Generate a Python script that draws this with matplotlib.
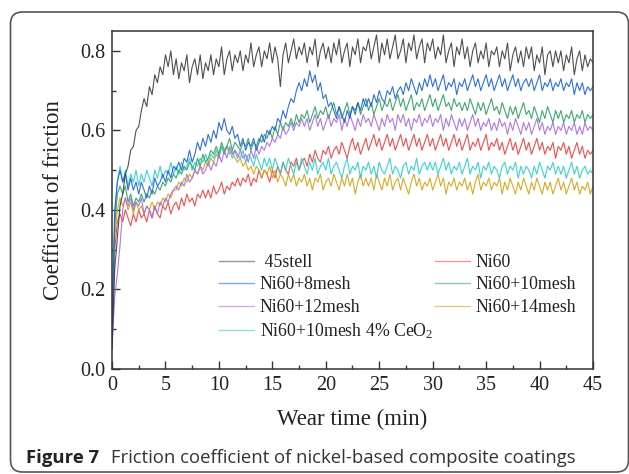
import numpy as np
import matplotlib
matplotlib.use("Agg")
import matplotlib.pyplot as plt
from matplotlib.patches import FancyBboxPatch
from matplotlib.transforms import IdentityTransform

time_min = np.arange(0, 45.001, 0.25)

steel_45 = [
    0.05, 0.25, 0.33, 0.41, 0.44, 0.49, 0.51, 0.55, 0.56, 0.60, 0.61, 0.65,
    0.68, 0.66, 0.71, 0.69, 0.74, 0.72, 0.76, 0.74, 0.79, 0.76, 0.80, 0.74,
    0.78, 0.73, 0.77, 0.75, 0.79, 0.72, 0.76, 0.78, 0.74, 0.79, 0.73, 0.77,
    0.75, 0.79, 0.74, 0.78, 0.76, 0.81, 0.74, 0.78, 0.80, 0.75, 0.79, 0.77,
    0.80, 0.75, 0.79, 0.77, 0.82, 0.76, 0.79, 0.81, 0.76, 0.80, 0.78, 0.82,
    0.77, 0.81, 0.78, 0.71, 0.79, 0.82, 0.77, 0.80, 0.83, 0.78, 0.81, 0.79,
    0.82, 0.77, 0.81, 0.79, 0.83, 0.76, 0.80, 0.82, 0.78, 0.81, 0.77, 0.82,
    0.79, 0.83, 0.77, 0.80, 0.82, 0.76, 0.81, 0.79, 0.83, 0.77, 0.81, 0.80,
    0.83, 0.78, 0.81, 0.84, 0.77, 0.82, 0.79, 0.83, 0.78, 0.81, 0.84, 0.78,
    0.80, 0.83, 0.77, 0.82, 0.80, 0.84, 0.78, 0.81, 0.83, 0.77, 0.82, 0.80,
    0.83, 0.78, 0.81, 0.79, 0.84, 0.77, 0.80, 0.82, 0.76, 0.81, 0.79, 0.83,
    0.78, 0.81, 0.76, 0.80, 0.82, 0.77, 0.80, 0.78, 0.82, 0.76, 0.80, 0.79,
    0.81, 0.76, 0.80, 0.78, 0.82, 0.75, 0.79, 0.81, 0.77, 0.80, 0.76, 0.81,
    0.78, 0.81, 0.75, 0.79, 0.77, 0.81, 0.74, 0.79, 0.80, 0.76, 0.80, 0.77,
    0.80, 0.75, 0.79, 0.77, 0.81, 0.74, 0.78, 0.80, 0.75, 0.79, 0.76, 0.78,
    0.77]

ni60 = [
    0.06, 0.30, 0.37, 0.39, 0.37, 0.40, 0.38, 0.36, 0.39, 0.37, 0.40, 0.38,
    0.39, 0.37, 0.40, 0.38, 0.41, 0.39, 0.38, 0.41, 0.40, 0.42, 0.39, 0.41,
    0.42, 0.40, 0.43, 0.41, 0.44, 0.42, 0.43, 0.41, 0.44, 0.43, 0.45, 0.43,
    0.45, 0.43, 0.46, 0.44, 0.45, 0.47, 0.44, 0.46, 0.45, 0.47, 0.46, 0.48,
    0.46, 0.48, 0.47, 0.49, 0.46, 0.48, 0.47, 0.50, 0.48, 0.50, 0.49, 0.47,
    0.50, 0.48, 0.51, 0.49, 0.52, 0.50, 0.49, 0.52, 0.51, 0.53, 0.50, 0.52,
    0.53, 0.51, 0.54, 0.52, 0.55, 0.53, 0.52, 0.55, 0.54, 0.56, 0.53, 0.55,
    0.56, 0.54, 0.57, 0.55, 0.53, 0.56, 0.58, 0.55, 0.57, 0.54, 0.56, 0.58,
    0.55, 0.57, 0.59, 0.56, 0.58, 0.55, 0.57, 0.59, 0.56, 0.58, 0.55, 0.57,
    0.59, 0.56, 0.58, 0.55, 0.57, 0.59, 0.56, 0.58, 0.55, 0.57, 0.59, 0.56,
    0.58, 0.55, 0.57, 0.59, 0.56, 0.58, 0.55, 0.57, 0.59, 0.56, 0.58, 0.55,
    0.57, 0.59, 0.55, 0.57, 0.56, 0.58, 0.55, 0.57, 0.59, 0.55, 0.57, 0.56,
    0.58, 0.55, 0.57, 0.54, 0.56, 0.58, 0.55, 0.57, 0.54, 0.56, 0.58, 0.55,
    0.57, 0.54, 0.56, 0.58, 0.55, 0.57, 0.54, 0.56, 0.55, 0.57, 0.53, 0.56,
    0.55, 0.57, 0.54, 0.56, 0.53, 0.55, 0.57, 0.54, 0.56, 0.53, 0.55, 0.54,
    0.55]

ni60_8mesh = [
    0.10, 0.40, 0.47, 0.50, 0.47, 0.49, 0.45, 0.48, 0.45, 0.47, 0.44, 0.47,
    0.45, 0.43, 0.46, 0.44, 0.48, 0.46, 0.47, 0.49, 0.47, 0.50, 0.48, 0.51,
    0.50, 0.52, 0.50, 0.53, 0.52, 0.55, 0.52, 0.54, 0.57, 0.55, 0.58, 0.56,
    0.59, 0.57, 0.60, 0.58, 0.62, 0.60, 0.63, 0.60, 0.59, 0.61, 0.58, 0.59,
    0.56, 0.58, 0.55, 0.57, 0.56, 0.58, 0.55, 0.57, 0.59, 0.57, 0.60, 0.59,
    0.61, 0.60, 0.63, 0.62, 0.65, 0.63, 0.66, 0.68, 0.67, 0.70, 0.72, 0.70,
    0.73, 0.71, 0.75, 0.72, 0.74, 0.70, 0.72, 0.68, 0.69, 0.66, 0.67, 0.65,
    0.63, 0.66, 0.64, 0.62, 0.65, 0.63, 0.66, 0.64, 0.67, 0.65, 0.68, 0.66,
    0.68, 0.66, 0.69, 0.67, 0.70, 0.68, 0.67, 0.70, 0.69, 0.71, 0.68, 0.70,
    0.71, 0.69, 0.72, 0.70, 0.73, 0.71, 0.69, 0.72, 0.70, 0.73, 0.71, 0.74,
    0.71, 0.73, 0.70, 0.72, 0.74, 0.70, 0.72, 0.71, 0.73, 0.69, 0.72, 0.71,
    0.73, 0.70, 0.72, 0.74, 0.71, 0.73, 0.70, 0.72, 0.74, 0.71, 0.73, 0.70,
    0.72, 0.74, 0.71, 0.73, 0.70, 0.72, 0.74, 0.71, 0.73, 0.70, 0.72, 0.73,
    0.71, 0.73, 0.70, 0.72, 0.74, 0.70, 0.72, 0.71, 0.73, 0.70, 0.72, 0.71,
    0.73, 0.70, 0.72, 0.71, 0.73, 0.69, 0.72, 0.70, 0.72, 0.69, 0.71, 0.70,
    0.71]

ni60_10mesh = [
    0.08, 0.36, 0.44, 0.46, 0.44, 0.46, 0.42, 0.44, 0.41, 0.43, 0.42, 0.44,
    0.42, 0.44, 0.43, 0.45, 0.44, 0.46, 0.45, 0.47, 0.46, 0.48, 0.47, 0.49,
    0.48, 0.50, 0.49, 0.51, 0.50, 0.52, 0.51, 0.50, 0.53, 0.51, 0.54, 0.52,
    0.53, 0.55, 0.54, 0.56, 0.54, 0.57, 0.55, 0.56, 0.58, 0.55, 0.57, 0.56,
    0.55, 0.57, 0.56, 0.58, 0.55, 0.57, 0.56, 0.58, 0.57, 0.59, 0.58, 0.60,
    0.58, 0.61, 0.59, 0.62, 0.60, 0.62, 0.61, 0.63, 0.61, 0.64, 0.62, 0.64,
    0.63, 0.65, 0.62, 0.64, 0.66, 0.63, 0.65, 0.64, 0.66, 0.63, 0.65, 0.67,
    0.64, 0.66, 0.63, 0.65, 0.67, 0.64, 0.66, 0.65, 0.67, 0.64, 0.66, 0.68,
    0.65, 0.67, 0.64, 0.66, 0.68, 0.65, 0.67, 0.66, 0.68, 0.65, 0.67, 0.69,
    0.66, 0.68, 0.65, 0.67, 0.69, 0.65, 0.67, 0.66, 0.68, 0.65, 0.67, 0.69,
    0.66, 0.68, 0.65, 0.67, 0.69, 0.66, 0.67, 0.65, 0.68, 0.66, 0.67, 0.65,
    0.67, 0.65, 0.68, 0.66, 0.64, 0.67, 0.65, 0.67, 0.64, 0.66, 0.68, 0.65,
    0.66, 0.64, 0.67, 0.65, 0.63, 0.66, 0.64, 0.66, 0.63, 0.65, 0.67, 0.64,
    0.65, 0.63, 0.66, 0.64, 0.62, 0.65, 0.63, 0.66, 0.64, 0.62, 0.65, 0.63,
    0.65, 0.62, 0.64, 0.63, 0.65, 0.62, 0.64, 0.63, 0.65, 0.62, 0.64, 0.63,
    0.64]

ni60_12mesh = [
    0.05, 0.18, 0.24, 0.31, 0.40, 0.43, 0.41, 0.43, 0.40, 0.42, 0.41, 0.43,
    0.39, 0.41, 0.40, 0.38, 0.41, 0.39, 0.42, 0.41, 0.43, 0.42, 0.44, 0.45,
    0.46, 0.45, 0.47, 0.46, 0.49, 0.47, 0.48, 0.50, 0.49, 0.51, 0.49, 0.50,
    0.52, 0.50, 0.52, 0.51, 0.54, 0.52, 0.55, 0.53, 0.56, 0.54, 0.55, 0.53,
    0.55, 0.53, 0.54, 0.52, 0.55, 0.53, 0.56, 0.54, 0.56, 0.55, 0.57, 0.56,
    0.58, 0.57, 0.59, 0.58, 0.61, 0.59, 0.60, 0.62, 0.60, 0.62, 0.61, 0.63,
    0.61, 0.63, 0.60, 0.62, 0.64, 0.61, 0.63, 0.60, 0.62, 0.64, 0.61, 0.63,
    0.62, 0.64, 0.60, 0.63, 0.61, 0.64, 0.62, 0.60, 0.63, 0.61, 0.64, 0.62,
    0.63, 0.61, 0.64, 0.62, 0.60, 0.63, 0.61, 0.64, 0.62, 0.63, 0.60, 0.64,
    0.62, 0.64, 0.61, 0.63, 0.60, 0.63, 0.62, 0.64, 0.61, 0.63, 0.62, 0.64,
    0.61, 0.63, 0.62, 0.64, 0.60, 0.63, 0.61, 0.64, 0.62, 0.60, 0.63, 0.61,
    0.63, 0.60, 0.62, 0.64, 0.61, 0.63, 0.60, 0.62, 0.61, 0.63, 0.60, 0.62,
    0.60, 0.63, 0.61, 0.62, 0.59, 0.62, 0.60, 0.63, 0.61, 0.59, 0.62, 0.60,
    0.62, 0.59, 0.61, 0.63, 0.60, 0.62, 0.59, 0.61, 0.60, 0.62, 0.59, 0.61,
    0.60, 0.62, 0.59, 0.61, 0.60, 0.62, 0.59, 0.61, 0.59, 0.62, 0.60, 0.61,
    0.60]

ni60_14mesh = [
    0.07, 0.33, 0.40, 0.43, 0.41, 0.43, 0.40, 0.42, 0.39, 0.42, 0.40, 0.41,
    0.39, 0.41, 0.40, 0.42, 0.40, 0.42, 0.41, 0.43, 0.42, 0.44, 0.43, 0.45,
    0.45, 0.47, 0.46, 0.48, 0.47, 0.49, 0.48, 0.50, 0.49, 0.51, 0.50, 0.52,
    0.51, 0.53, 0.52, 0.54, 0.53, 0.56, 0.54, 0.56, 0.54, 0.55, 0.53, 0.52,
    0.53, 0.51, 0.52, 0.50, 0.51, 0.49, 0.51, 0.50, 0.48, 0.50, 0.49, 0.51,
    0.48, 0.50, 0.47, 0.49, 0.48, 0.46, 0.49, 0.47, 0.49, 0.46, 0.48, 0.47,
    0.49, 0.46, 0.48, 0.45, 0.48, 0.47, 0.49, 0.45, 0.47, 0.48, 0.46, 0.49,
    0.47, 0.45, 0.48, 0.46, 0.49, 0.46, 0.48, 0.44, 0.47, 0.49, 0.46, 0.48,
    0.46, 0.48, 0.45, 0.49, 0.47, 0.45, 0.48, 0.46, 0.49, 0.45, 0.47, 0.48,
    0.45, 0.48, 0.46, 0.44, 0.47, 0.49, 0.46, 0.48, 0.45, 0.47, 0.46, 0.48,
    0.45, 0.47, 0.49, 0.46, 0.48, 0.44, 0.47, 0.46, 0.48, 0.45, 0.47, 0.46,
    0.48, 0.45, 0.47, 0.44, 0.47, 0.49, 0.45, 0.47, 0.46, 0.48, 0.45, 0.47,
    0.46, 0.48, 0.44, 0.47, 0.45, 0.48, 0.46, 0.44, 0.47, 0.45, 0.48, 0.46,
    0.44, 0.47, 0.45, 0.48, 0.46, 0.44, 0.47, 0.45, 0.47, 0.44, 0.46, 0.48,
    0.45, 0.47, 0.44, 0.46, 0.48, 0.45, 0.47, 0.44, 0.46, 0.45, 0.47, 0.44,
    0.46]

ni60_10mesh_ceo2 = [
    0.07, 0.38, 0.47, 0.51, 0.47, 0.50, 0.46, 0.49, 0.47, 0.50, 0.46, 0.49,
    0.47, 0.50, 0.48, 0.46, 0.50, 0.48, 0.51, 0.48, 0.50, 0.49, 0.52, 0.49,
    0.51, 0.49, 0.52, 0.50, 0.51, 0.53, 0.50, 0.52, 0.51, 0.53, 0.52, 0.54,
    0.52, 0.54, 0.53, 0.55, 0.53, 0.56, 0.54, 0.56, 0.55, 0.53, 0.55, 0.54,
    0.53, 0.55, 0.52, 0.54, 0.53, 0.51, 0.54, 0.52, 0.50, 0.53, 0.51, 0.53,
    0.50, 0.53, 0.51, 0.49, 0.52, 0.50, 0.53, 0.51, 0.49, 0.52, 0.50, 0.53,
    0.51, 0.49, 0.52, 0.50, 0.53, 0.49, 0.51, 0.52, 0.50, 0.53, 0.49, 0.51,
    0.52, 0.50, 0.48, 0.51, 0.53, 0.49, 0.51, 0.50, 0.52, 0.48, 0.51, 0.50,
    0.52, 0.49, 0.51, 0.48, 0.52, 0.50, 0.49, 0.51, 0.53, 0.49, 0.51, 0.50,
    0.48, 0.51, 0.52, 0.49, 0.51, 0.50, 0.53, 0.49, 0.51, 0.52, 0.50, 0.52,
    0.50, 0.52, 0.49, 0.51, 0.53, 0.50, 0.52, 0.49, 0.51, 0.50, 0.52, 0.49,
    0.51, 0.53, 0.49, 0.51, 0.50, 0.52, 0.48, 0.51, 0.50, 0.52, 0.49, 0.51,
    0.50, 0.48, 0.51, 0.52, 0.49, 0.51, 0.50, 0.52, 0.48, 0.51, 0.49, 0.51,
    0.50, 0.48, 0.51, 0.49, 0.52, 0.50, 0.48, 0.51, 0.50, 0.52, 0.49, 0.51,
    0.49, 0.51, 0.48, 0.50, 0.52, 0.49, 0.51, 0.48, 0.50, 0.51, 0.49, 0.50,
    0.49]

series_labels = [" 45stell", "Ni60+8mesh", "Ni60+12mesh", "Ni60+10mesh 4% CeO$_2$",
                 "Ni60", "Ni60+10mesh", "Ni60+14mesh"]
series_values = [steel_45, ni60_8mesh, ni60_12mesh, ni60_10mesh_ceo2,
                 ni60, ni60_10mesh, ni60_14mesh]
series_colors = ["#3c3c3c", "#1c5fd8", "#a66be0", "#28cfc6",
                 "#f23b3b", "#2a9f5e", "#d4a012"]
draw_order = [4, 6, 3, 5, 2, 1, 0]

x_ticks = [0, 5, 10, 15, 20, 25, 30, 35, 40, 45]
y_ticks = [0.0, 0.2, 0.4, 0.6, 0.8]

# ---------------- figure ----------------
plt.rcParams["font.family"] = ["Liberation Serif", "DejaVu Serif"]
plt.rcParams["mathtext.fontset"] = "custom"
plt.rcParams["mathtext.rm"] = "Liberation Serif"
plt.rcParams["mathtext.default"] = "regular"

W, H = 629, 474
fig = plt.figure(figsize=(W / 100, H / 100), dpi=100)
ax = fig.add_axes([112 / W, 1 - 369 / H, (593 - 112) / W, (369 - 31) / H])

lines = {}
for i in draw_order:
    ln, = ax.plot(time_min, series_values[i], color=series_colors[i], lw=0.8,
                  alpha=0.9, label=series_labels[i])
    lines[i] = ln

ax.set_xlim(0, 45)
ax.set_ylim(0, 0.85)
ax.set_xticks(x_ticks)
ax.set_yticks(y_ticks)
ax.set_xticklabels([str(v) for v in x_ticks])
ax.set_yticklabels([f"{v:.1f}" for v in y_ticks])
ax.xaxis.set_minor_locator(matplotlib.ticker.MultipleLocator(2.5))
ax.yaxis.set_minor_locator(matplotlib.ticker.MultipleLocator(0.1))
ax.tick_params(which="both", direction="in", colors="#333333", width=1.0)
ax.tick_params(which="major", length=6, labelsize=14.5, pad=5, labelcolor="#222222")
ax.tick_params(which="minor", length=3)
for s in ax.spines.values():
    s.set_color("#333333")
    s.set_linewidth(1.1)

ax.set_xlabel("Wear time (min)", fontsize=16.5, color="#222222")
ax.set_ylabel("Coefficient of friction", fontsize=16.5, color="#222222")
ax.xaxis.set_label_coords(0.5, -0.118)
ax.yaxis.set_label_coords(-0.10, 0.5)

handles = [lines[i] for i in range(7)]
leg = ax.legend(handles, series_labels, ncol=2, frameon=False, fontsize=12.8,
                loc="upper left", bbox_to_anchor=(0.222, 0.34),
                handlelength=2.0, handletextpad=0.3, labelspacing=0.3,
                columnspacing=0.1, borderpad=0, borderaxespad=0)
for lh in leg.get_lines():
    lh.set_linewidth(1.0)
    lh.set_alpha(0.55)
for t in leg.get_texts():
    t.set_color("#222222")

# rounded outer frame
frame = FancyBboxPatch((10.5, 2), 618, 460, boxstyle="round,pad=0,rounding_size=12",
                       transform=IdentityTransform(), fill=False,
                       edgecolor="#555555", linewidth=1.2)
fig.add_artist(frame)

# caption
cap_font = ["Open Sans", "DejaVu Sans"]
t1 = fig.text(26 / W, 1 - 463 / H, "Figure 7", fontsize=13.3, fontweight="bold",
              family=cap_font, color="#222222", ha="left", va="baseline")
fig.canvas.draw()
bb = t1.get_window_extent()
fig.text((bb.x1 + 12) / W, 1 - 463 / H,
         "Friction coefficient of nickel-based composite coatings",
         fontsize=13.3, family=cap_font, color="#333333", ha="left", va="baseline")

fig.savefig("out.png", dpi=100)
